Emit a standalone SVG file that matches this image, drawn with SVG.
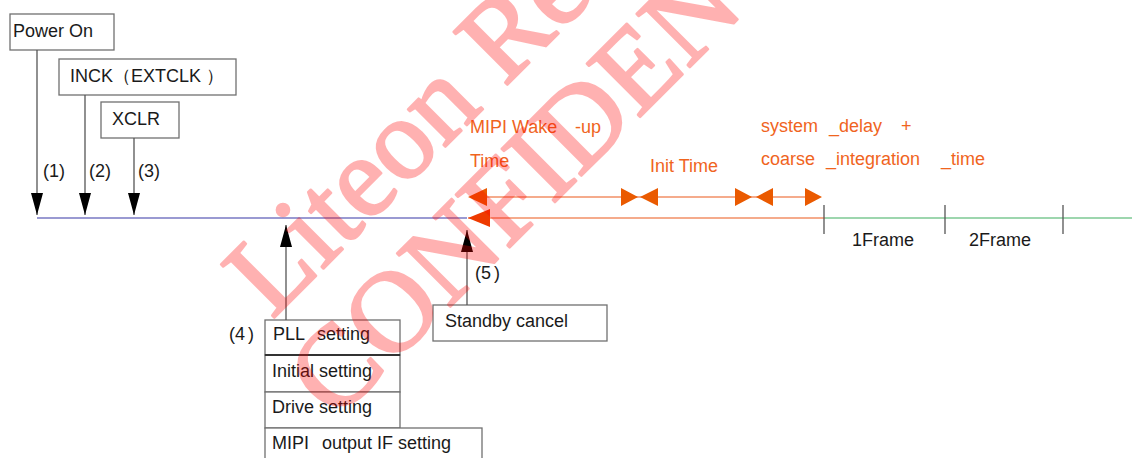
<svg xmlns="http://www.w3.org/2000/svg" width="1132" height="458" viewBox="0 0 1132 458">
<style>
.box{fill:#fff;stroke:#707070;stroke-width:1.3}
.t{font-family:"Liberation Sans",Arial,sans-serif;font-size:18px;fill:#1a1a1a}
.o{font-family:"Liberation Sans",Arial,sans-serif;font-size:18px;fill:#f0641e}
.ln{stroke:#555;stroke-width:1.3;fill:none}
.wm{font-family:"Liberation Serif","Times New Roman",serif;font-size:115px;fill:#ff0000;stroke:#ff0000;stroke-width:2.5;stroke-linejoin:round}
</style>
<defs>
<marker id="ah" markerWidth="22" markerHeight="12" refX="22" refY="6" orient="auto" markerUnits="userSpaceOnUse" viewBox="0 0 22 12">
<path d="M0,0 L22,6 L0,12 Z" fill="#000"/>
</marker>
</defs>
<rect width="1132" height="458" fill="#fff"/>

<g id="timeline">
<line x1="37" y1="218" x2="467" y2="218" stroke="#9a9ad2" stroke-width="2"/>
<line x1="468" y1="218" x2="825" y2="218" stroke="#f5ab8c" stroke-width="2"/>
<line x1="825" y1="218" x2="1132" y2="218" stroke="#9dd6ae" stroke-width="2"/>
<path d="M468,218 L490,209 L490,227 Z" fill="#ee3a00"/>
<line x1="824" y1="205" x2="824" y2="234" stroke="#555" stroke-width="1.3"/>
<line x1="945" y1="205" x2="945" y2="234" stroke="#555" stroke-width="1.3"/>
<line x1="1063" y1="205" x2="1063" y2="234" stroke="#555" stroke-width="1.3"/>
<text class="t" x="852" y="246">1Frame</text>
<text class="t" x="969" y="246">2Frame</text>
</g>

<g id="node-power-on">
<rect class="box" x="10" y="14" width="104" height="36"/>
<text class="t" x="13" y="37">Power On</text>
</g>
<g id="node-inck">
<rect class="box" x="59" y="59" width="177" height="36"/>
<text class="t" x="70" y="82">INCK（EXTCLK ）</text>
</g>
<g id="node-xclr">
<rect class="box" x="101" y="102" width="78" height="36"/>
<text class="t" x="112" y="125">XCLR</text>
</g>

<g id="node-settings">
<rect class="box" x="265" y="320" width="135" height="35"/>
<rect class="box" x="265" y="355" width="135" height="37"/>
<rect class="box" x="265" y="392" width="135" height="36"/>
<rect class="box" x="265" y="428" width="217" height="40"/>
<line x1="265" y1="355" x2="400" y2="355" stroke="#333" stroke-width="2"/>
<text class="t" x="273" y="340">PLL<tspan x="317">setting</tspan></text>
<text class="t" x="272" y="377">Initial setting</text>
<text class="t" x="272" y="413">Drive setting</text>
<text class="t" x="272" y="449">MIPI<tspan x="322">output IF setting</tspan></text>
</g>

<g id="node-standby">
<rect class="box" x="433" y="305" width="174" height="36"/>
<text class="t" x="445" y="327">Standby cancel</text>
</g>

<g id="connectors">
<line class="ln" x1="37" y1="50" x2="37" y2="215" marker-end="url(#ah)"/>
<line class="ln" x1="85" y1="95" x2="85" y2="215" marker-end="url(#ah)"/>
<line class="ln" x1="134" y1="138" x2="134" y2="215" marker-end="url(#ah)"/>
<line class="ln" x1="286" y1="320" x2="286" y2="225" marker-end="url(#ah)"/>
<line class="ln" x1="467" y1="305" x2="467" y2="230" marker-end="url(#ah)"/>
<text class="t" x="43" y="177">(1)</text>
<text class="t" x="89" y="177">(2)</text>
<text class="t" x="138" y="177">(3)</text>
<text class="t" x="229" y="340">(4<tspan dx="3">)</tspan></text>
<text class="t" x="475" y="279">(5<tspan dx="3">)</tspan></text>
</g>

<g id="durations">
<line x1="470" y1="197" x2="820" y2="197" stroke="#f5ab8c" stroke-width="2"/>
<path d="M468,197 L487,188 L487,206 Z M638,197 L621,188 L621,206 Z M640,197 L658,188 L658,206 Z M752,197 L735,188 L735,206 Z M756,197 L773,188 L773,206 Z M822,197 L805,188 L805,206 Z" fill="#ea5a00"/>
<text class="o" x="470" y="133">MIPI Wake</text>
<text class="o" x="575" y="133">-up</text>
<text class="o" x="470" y="167">Time</text>
<text class="o" x="650" y="172">Init Time</text>
<text class="o" x="761" y="132">system</text>
<text class="o" x="829" y="132">_delay</text>
<text class="o" x="901" y="132">+</text>
<text class="o" x="761" y="165">coarse</text>
<text class="o" x="826" y="165">_integration</text>
<text class="o" x="941" y="165">_time</text>
</g>

<g id="watermark" opacity="0.3">
<text class="wm" transform="translate(272,320) rotate(-45)">Liteon Re</text>
<text class="wm" transform="translate(335,422) rotate(-45)">CONFIDEN</text>
</g>
</svg>
